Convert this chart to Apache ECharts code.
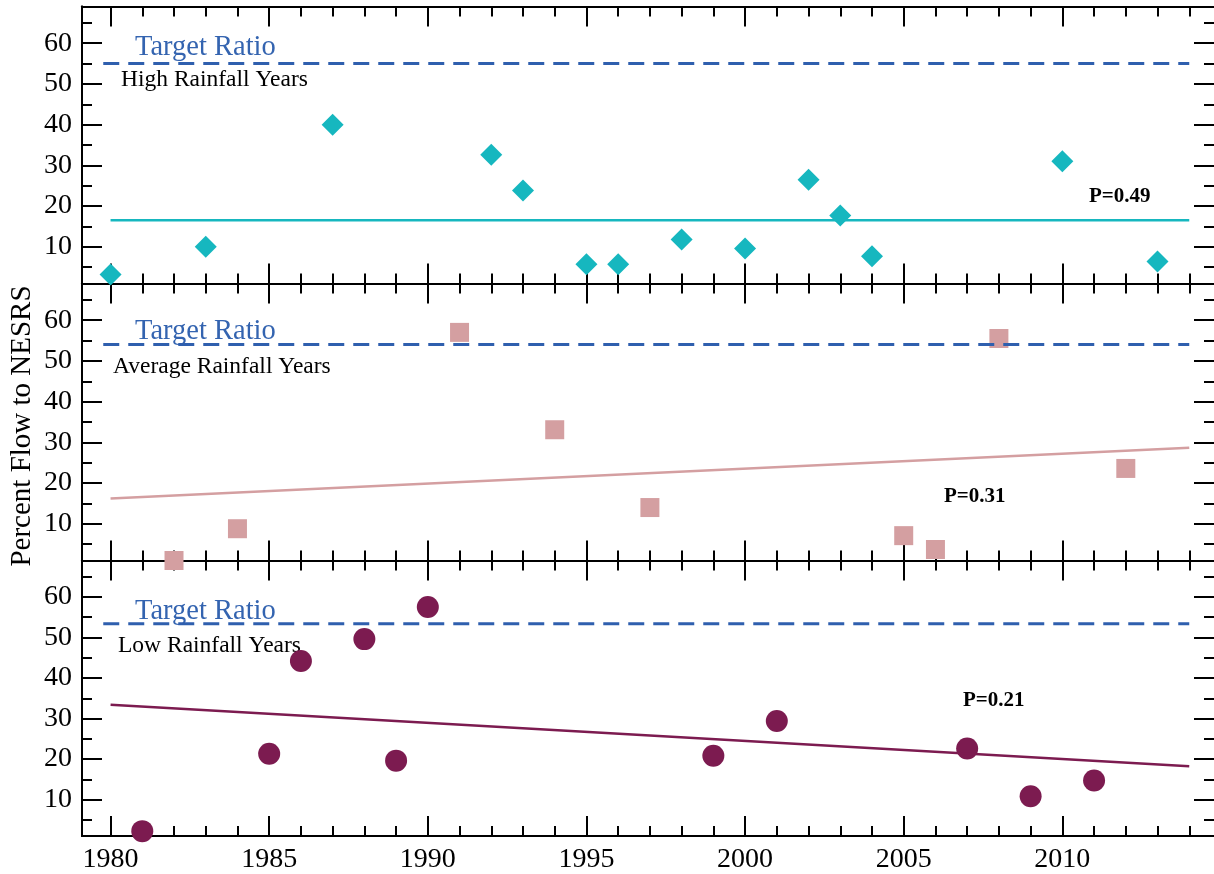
<!DOCTYPE html>
<html>
<head>
<meta charset="utf-8">
<script src="https://cdn.jsdelivr.net/npm/echarts@6/dist/echarts.min.js"></script>
<style>html,body{margin:0;padding:0;background:#fff;}#c{width:1214px;height:874px;}</style>
</head>
<body>
<div id="c"></div>
<script>
// ---- data ----
const highYears = [1980, 1983, 1987, 1992, 1993, 1995, 1996, 1998, 2000, 2002, 2003, 2004, 2010, 2013];
const highValues = [3.2, 10.0, 40.0, 32.6, 23.8, 5.7, 5.7, 11.8, 9.6, 26.5, 17.7, 7.7, 31.0, 6.4];
const avgYears = [1982, 1984, 1991, 1994, 1997, 2005, 2006, 2008, 2012];
const avgValues = [1.0, 8.8, 57.0, 33.1, 14.0, 7.1, 3.7, 55.5, 23.6];
const lowYears = [1981, 1985, 1986, 1988, 1989, 1990, 1999, 2001, 2007, 2009, 2011];
const lowValues = [2.2, 21.3, 44.2, 49.6, 19.6, 57.5, 20.8, 29.4, 22.6, 10.8, 14.7];
const trendYears = [1980, 2014];
const highTrend = [16.5, 16.5];
const avgTrend = [16.2, 28.7];
const lowTrend = [33.4, 18.2];
const targetYears = [1979.77, 2014];
const targetValues = [55, 54, 53.4];
const xLabelValues = [1980, 1985, 1990, 1995, 2000, 2005, 2010];
const xMinorValues = [1980,1981,1982,1983,1984,1985,1986,1987,1988,1989,1990,1991,1992,1993,1994,1995,1996,1997,1998,1999,2000,2001,2002,2003,2004,2005,2006,2007,2008,2009,2010,2011,2012,2013,2014];
const yMajorValues = [10, 20, 30, 40, 50, 60];
const yMinorValues = [5, 15, 25, 35, 45, 55, 65];
const panelLabels = ['High Rainfall Years', 'Average Rainfall Years', 'Low Rainfall Years'];
const pLabels = ['P=0.49', 'P=0.31', 'P=0.21'];
const targetText = 'Target Ratio';
const yName = 'Percent Flow to NESRS';

// ---- styling ----
const FAM = 'Liberation Serif';
const FONT = '"Liberation Serif", serif';
const colors = ['#16b7bf', '#d49fa1', '#7c1b50'];
const symbols = ['diamond', 'rect', 'circle'];
const symSizes = [22, 19, 22];
const blue = '#2f5fae';
const gridTops = [6.5, 283.5, 560.5];
const gridH = 277;

const grids = [], xAxes = [], yAxes = [], series = [];
const pts = [
  [highYears, highValues, highTrend],
  [avgYears, avgValues, avgTrend],
  [lowYears, lowValues, lowTrend]
];
const lineCol = '#000';

for (let i = 0; i < 3; i++) {
  grids.push({ left: 82, right: 0, top: gridTops[i], height: gridH });
  const xBase = { type: 'value', gridIndex: i, min: 1979.1, max: 2014.78, splitLine: { show: false },
    axisLine: { show: true, onZero: false, lineStyle: { color: lineCol, width: 2 } } };
  const mk = (pos, vals, len, label) => Object.assign({}, xBase, {
    position: pos,
    axisTick: { show: true, inside: true, length: len, customValues: vals, lineStyle: { color: lineCol, width: 2 } },
    axisLabel: label ? { show: true, customValues: xLabelValues, margin: 10, color: '#000', fontSize: 28, fontFamily: FAM,
      formatter: v => String(Math.round(v)) } : { show: false }
  });
  xAxes.push(mk('bottom', xMinorValues, 10, i === 2));
  xAxes.push(mk('bottom', xLabelValues, 20, false));
  xAxes.push(mk('top', xMinorValues, 10, false));
  xAxes.push(mk('top', xLabelValues, 20, false));

  const yBase = { type: 'value', gridIndex: i, min: 1, max: 69, splitLine: { show: false } };
  const mky = (pos, vals, len, label) => Object.assign({}, yBase, {
    position: pos,
    axisLine: { show: pos === 'left', onZero: false, lineStyle: { color: lineCol, width: 2 } },
    axisTick: { show: true, inside: true, length: len, customValues: vals, lineStyle: { color: lineCol, width: 2 } },
    axisLabel: label ? { show: true, customValues: yMajorValues, margin: 10, color: '#000', fontSize: 28, fontFamily: FAM,
      formatter: v => String(Math.round(v)) } : { show: false }
  });
  yAxes.push(mky('left', yMinorValues, 10, true));
  yAxes.push(mky('left', yMajorValues, 20, false));
  yAxes.push(mky('right', yMinorValues, 10, false));
  yAxes.push(mky('right', yMajorValues, 20, false));

  const xi = 4 * i, yi = 4 * i;
  series.push({ type: 'line', xAxisIndex: xi, yAxisIndex: yi, silent: true, showSymbol: false, symbol: 'none',
    data: targetYears.map(y => [y, targetValues[i]]),
    lineStyle: { color: blue, width: 3, type: [16, 9] }, animation: false });
  series.push({ type: 'line', xAxisIndex: xi, yAxisIndex: yi, silent: true, showSymbol: false, symbol: 'none',
    data: trendYears.map((y, k) => [y, pts[i][2][k]]),
    lineStyle: { color: colors[i], width: 2.5 }, animation: false });
  series.push({ type: 'scatter', xAxisIndex: xi, yAxisIndex: yi, clip: false,
    symbol: symbols[i], symbolSize: symSizes[i],
    itemStyle: { color: colors[i], opacity: 1 },
    data: pts[i][0].map((y, k) => [y, pts[i][1][k]]), animation: false });
}

const txt = (x, y, text, size, color, weight) => ({
  type: 'text', x: x, y: y, silent: true,
  style: { text: text, fill: color, font: (weight || 'normal') + ' ' + size + 'px ' + FONT, align: 'left', verticalAlign: 'middle' }
});

const graphic = [
  txt(135, 48, targetText, 28.5, '#3464b0'),
  txt(121, 80, panelLabels[0], 23.5, '#000'),
  txt(135, 332, targetText, 28.5, '#3464b0'),
  txt(113, 367, panelLabels[1], 23.5, '#000'),
  txt(135, 612, targetText, 28.5, '#3464b0'),
  txt(118, 646, panelLabels[2], 23.5, '#000'),
  txt(1089, 197, pLabels[0], 21, '#000', 'bold'),
  txt(944, 497, pLabels[1], 21, '#000', 'bold'),
  txt(963, 701, pLabels[2], 21, '#000', 'bold'),
  { type: 'text', x: 22, y: 426, rotation: Math.PI / 2, silent: true,
    style: { text: yName, fill: '#000', font: '29px ' + FONT, align: 'center', verticalAlign: 'middle' } }
];

const chart = echarts.init(document.getElementById('c'));
chart.setOption({
  animation: false,
  backgroundColor: '#fff',
  grid: grids,
  xAxis: xAxes,
  yAxis: yAxes,
  series: series,
  graphic: graphic
});
</script>
</body>
</html>
